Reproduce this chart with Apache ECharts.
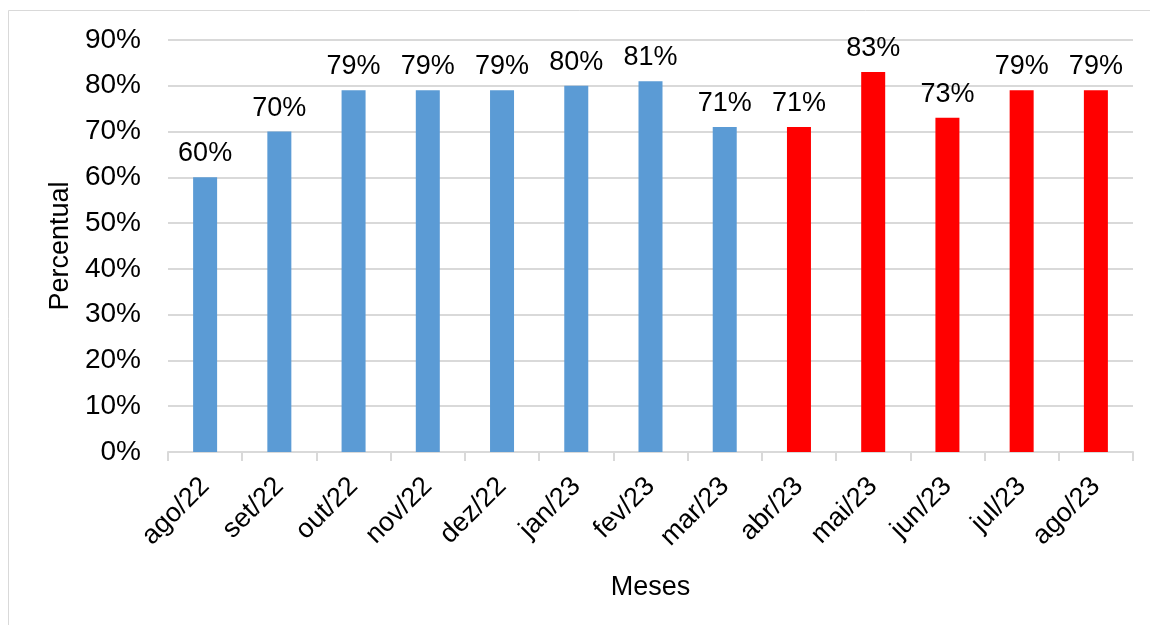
<!DOCTYPE html>
<html>
<head>
<meta charset="utf-8">
<script src="https://cdn.jsdelivr.net/npm/echarts@6/dist/echarts.min.js"></script>
<style>
  html, body { margin: 0; padding: 0; background: #fff; }
  #chart { width: 1150px; height: 625px; }
</style>
</head>
<body>
<div id="chart"></div>
<script>
// Monthly percentages, Aug/22 – Aug/23
const months = ['ago/22', 'set/22', 'out/22', 'nov/22', 'dez/22', 'jan/23', 'fev/23',
                'mar/23', 'abr/23', 'mai/23', 'jun/23', 'jul/23', 'ago/23'];
const percentValues = [60, 70, 79, 79, 79, 80, 81, 71, 71, 83, 73, 79, 79];
// First 8 months shown in blue, the rest highlighted in red
const highlightFrom = 8;
const blue = '#5B9BD5';
const red = '#FF0000';

const font = 'Liberation Sans, Arial, sans-serif';

const chart = echarts.init(document.getElementById('chart'));
chart.setOption({
  animation: false,
  backgroundColor: '#fff',
  graphic: [{
    type: 'rect',
    shape: { x: 8.5, y: 10.5, width: 1150, height: 660 },
    style: { fill: 'none', stroke: '#d9d9d9', lineWidth: 1 },
    silent: true
  }],
  grid: { left: 168, right: 17, top: 40, bottom: 173, containLabel: false },
  xAxis: {
    type: 'category',
    data: months,
    name: 'Meses',
    nameLocation: 'middle',
    nameGap: 122,
    nameTextStyle: { fontFamily: font, fontSize: 27, color: '#000' },
    axisLine: { lineStyle: { color: '#d9d9d9', width: 2 } },
    axisTick: { show: true, length: 9, lineStyle: { color: '#d9d9d9', width: 2 } },
    axisLabel: { rotate: 45, margin: 30, fontFamily: font, fontSize: 27, color: '#000' }
  },
  yAxis: {
    type: 'value',
    min: 0, max: 90, interval: 10,
    name: 'Percentual',
    nameLocation: 'middle',
    nameGap: 94,
    nameTextStyle: { fontFamily: font, fontSize: 27, color: '#000' },
    axisLine: { show: false },
    axisTick: { show: false },
    axisLabel: { formatter: '{value}%', margin: 27, fontFamily: font, fontSize: 28, color: '#000' },
    splitLine: { lineStyle: { color: '#d9d9d9', width: 2 } }
  },
  series: [{
    type: 'bar',
    barWidth: 24,
    data: percentValues.map((v, i) => ({
      value: v,
      itemStyle: { color: i >= highlightFrom ? red : blue }
    })),
    label: {
      show: true,
      position: 'top',
      distance: 10,
      formatter: '{c}%',
      fontFamily: font,
      fontSize: 27,
      color: '#000'
    }
  }]
});
</script>
</body>
</html>
